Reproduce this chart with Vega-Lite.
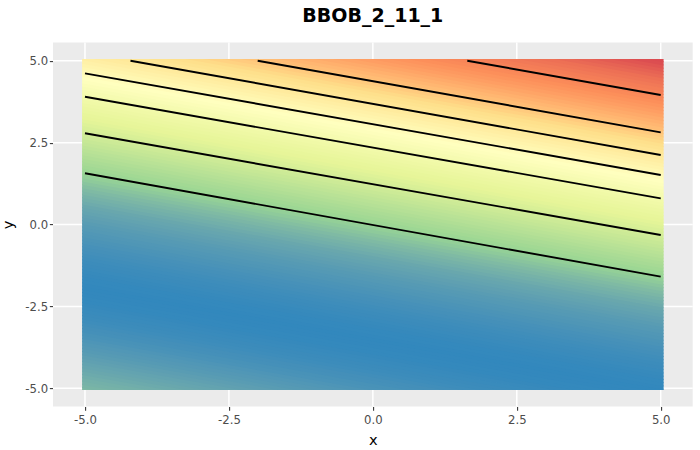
{
  "$schema": "https://vega.github.io/schema/vega-lite/v6.json",
  "autosize": {"type": "none"},
  "width": 581.5,
  "height": 330.9,
  "padding": {"left": 82.1, "top": 59.1, "right": 36.4, "bottom": 60},
  "background": "white",
  "title": {"text": "BBOB_2_11_1", "font": "DejaVu Sans", "fontSize": 19, "fontWeight": "bold", "color": "#000000", "anchor": "middle", "baseline": "alphabetic", "offset": 1},
  "config": {
    "view": {"stroke": null},
    "axis": {"domain": false, "grid": false, "tickColor": "#333333", "tickSize": 3.65, "tickWidth": 1.07, "labelColor": "#4d4d4d", "labelFontSize": 11.7, "labelFont": "DejaVu Sans", "titleFont": "DejaVu Sans", "titleFontSize": 14.6, "titleFontWeight": "normal", "titleColor": "#000000"},
    "axisX": {"offset": 16.5, "labelPadding": 4.5, "titlePadding": 6.5},
    "axisY": {"offset": 29.1, "labelPadding": 1.7, "titlePadding": 9}
  },
  "datasets": {
    "grid": [{"g": -5}, {"g": -2.5}, {"g": 0}, {"g": 2.5}, {"g": 5}],
    "field": [
      {"y":-5.124,"y2":-8.276,"v":0.116},{"y":-5.024,"y2":-8.176,"v":0.108},{"y":-4.924,"y2":-8.076,"v":0.100},{"y":-4.824,"y2":-7.976,"v":0.094},{"y":-4.724,"y2":-7.876,"v":0.088},
      {"y":-4.624,"y2":-7.776,"v":0.082},{"y":-4.524,"y2":-7.676,"v":0.076},{"y":-4.424,"y2":-7.576,"v":0.070},{"y":-4.324,"y2":-7.476,"v":0.065},{"y":-4.224,"y2":-7.376,"v":0.060},
      {"y":-4.124,"y2":-7.276,"v":0.055},{"y":-4.024,"y2":-7.176,"v":0.050},{"y":-3.924,"y2":-7.076,"v":0.045},{"y":-3.824,"y2":-6.976,"v":0.041},{"y":-3.724,"y2":-6.876,"v":0.037},
      {"y":-3.624,"y2":-6.776,"v":0.033},{"y":-3.524,"y2":-6.676,"v":0.029},{"y":-3.424,"y2":-6.576,"v":0.025},{"y":-3.324,"y2":-6.476,"v":0.022},{"y":-3.224,"y2":-6.376,"v":0.019},
      {"y":-3.124,"y2":-6.276,"v":0.017},{"y":-3.024,"y2":-6.176,"v":0.014},{"y":-2.924,"y2":-6.076,"v":0.011},{"y":-2.824,"y2":-5.976,"v":0.009},{"y":-2.724,"y2":-5.876,"v":0.008},
      {"y":-2.624,"y2":-5.776,"v":0.006},{"y":-2.524,"y2":-5.676,"v":0.005},{"y":-2.424,"y2":-5.576,"v":0.003},{"y":-2.324,"y2":-5.476,"v":0.002},{"y":-2.224,"y2":-5.376,"v":0.002},
      {"y":-2.124,"y2":-5.276,"v":0.001},{"y":-2.024,"y2":-5.176,"v":0.001},{"y":-1.924,"y2":-5.076,"v":0.000},{"y":-1.824,"y2":-4.976,"v":0.001},{"y":-1.724,"y2":-4.876,"v":0.002},
      {"y":-1.624,"y2":-4.776,"v":0.002},{"y":-1.524,"y2":-4.676,"v":0.003},{"y":-1.424,"y2":-4.576,"v":0.004},{"y":-1.324,"y2":-4.476,"v":0.006},{"y":-1.224,"y2":-4.376,"v":0.008},
      {"y":-1.124,"y2":-4.276,"v":0.009},{"y":-1.024,"y2":-4.176,"v":0.011},{"y":-0.924,"y2":-4.076,"v":0.013},{"y":-0.824,"y2":-3.976,"v":0.016},{"y":-0.724,"y2":-3.876,"v":0.019},
      {"y":-0.624,"y2":-3.776,"v":0.021},{"y":-0.524,"y2":-3.676,"v":0.024},{"y":-0.424,"y2":-3.576,"v":0.027},{"y":-0.324,"y2":-3.476,"v":0.031},{"y":-0.224,"y2":-3.376,"v":0.034},
      {"y":-0.124,"y2":-3.276,"v":0.038},{"y":-0.024,"y2":-3.176,"v":0.041},{"y":0.076,"y2":-3.076,"v":0.045},{"y":0.176,"y2":-2.976,"v":0.050},{"y":0.276,"y2":-2.876,"v":0.055},
      {"y":0.376,"y2":-2.776,"v":0.060},{"y":0.476,"y2":-2.676,"v":0.065},{"y":0.576,"y2":-2.576,"v":0.070},{"y":0.676,"y2":-2.476,"v":0.078},{"y":0.776,"y2":-2.376,"v":0.086},
      {"y":0.876,"y2":-2.276,"v":0.094},{"y":0.976,"y2":-2.176,"v":0.102},{"y":1.076,"y2":-2.076,"v":0.110},{"y":1.176,"y2":-1.976,"v":0.121},{"y":1.276,"y2":-1.876,"v":0.132},
      {"y":1.376,"y2":-1.776,"v":0.143},{"y":1.476,"y2":-1.676,"v":0.154},{"y":1.576,"y2":-1.576,"v":0.165},{"y":1.676,"y2":-1.476,"v":0.175},{"y":1.776,"y2":-1.376,"v":0.185},
      {"y":1.876,"y2":-1.276,"v":0.195},{"y":1.976,"y2":-1.176,"v":0.205},{"y":2.076,"y2":-1.076,"v":0.215},{"y":2.176,"y2":-0.976,"v":0.225},{"y":2.276,"y2":-0.876,"v":0.235},
      {"y":2.376,"y2":-0.776,"v":0.245},{"y":2.476,"y2":-0.676,"v":0.255},{"y":2.576,"y2":-0.576,"v":0.265},{"y":2.676,"y2":-0.476,"v":0.275},{"y":2.776,"y2":-0.376,"v":0.285},
      {"y":2.876,"y2":-0.276,"v":0.295},{"y":2.976,"y2":-0.176,"v":0.305},{"y":3.076,"y2":-0.076,"v":0.315},{"y":3.176,"y2":0.024,"v":0.326},{"y":3.276,"y2":0.124,"v":0.337},
      {"y":3.376,"y2":0.224,"v":0.348},{"y":3.476,"y2":0.324,"v":0.359},{"y":3.576,"y2":0.424,"v":0.370},{"y":3.676,"y2":0.524,"v":0.384},{"y":3.776,"y2":0.624,"v":0.398},
      {"y":3.876,"y2":0.724,"v":0.412},{"y":3.976,"y2":0.824,"v":0.426},{"y":4.076,"y2":0.924,"v":0.440},{"y":4.176,"y2":1.024,"v":0.455},{"y":4.276,"y2":1.124,"v":0.470},
      {"y":4.376,"y2":1.224,"v":0.485},{"y":4.476,"y2":1.324,"v":0.500},{"y":4.576,"y2":1.424,"v":0.515},{"y":4.676,"y2":1.524,"v":0.530},{"y":4.776,"y2":1.624,"v":0.545},
      {"y":4.876,"y2":1.724,"v":0.560},{"y":4.976,"y2":1.824,"v":0.575},{"y":5.076,"y2":1.924,"v":0.590},{"y":5.176,"y2":2.024,"v":0.605},{"y":5.276,"y2":2.124,"v":0.620},
      {"y":5.376,"y2":2.224,"v":0.635},{"y":5.476,"y2":2.324,"v":0.650},{"y":5.576,"y2":2.424,"v":0.665},{"y":5.676,"y2":2.524,"v":0.680},{"y":5.776,"y2":2.624,"v":0.695},
      {"y":5.876,"y2":2.724,"v":0.710},{"y":5.976,"y2":2.824,"v":0.725},{"y":6.076,"y2":2.924,"v":0.740},{"y":6.176,"y2":3.024,"v":0.752},{"y":6.276,"y2":3.124,"v":0.764},
      {"y":6.376,"y2":3.224,"v":0.776},{"y":6.476,"y2":3.324,"v":0.788},{"y":6.576,"y2":3.424,"v":0.800},{"y":6.676,"y2":3.524,"v":0.810},{"y":6.776,"y2":3.624,"v":0.820},
      {"y":6.876,"y2":3.724,"v":0.830},{"y":6.976,"y2":3.824,"v":0.840},{"y":7.076,"y2":3.924,"v":0.850},{"y":7.176,"y2":4.024,"v":0.860},{"y":7.276,"y2":4.124,"v":0.870},
      {"y":7.376,"y2":4.224,"v":0.880},{"y":7.476,"y2":4.324,"v":0.890},{"y":7.576,"y2":4.424,"v":0.900},{"y":7.676,"y2":4.524,"v":0.914},{"y":7.776,"y2":4.624,"v":0.928},
      {"y":7.876,"y2":4.724,"v":0.942},{"y":7.976,"y2":4.824,"v":0.956},{"y":8.076,"y2":4.924,"v":0.970},{"y":8.176,"y2":5.024,"v":0.976},{"y":8.276,"y2":5.124,"v":0.982}
    ],
    "contours": [
      {"line": 1, "x": -5, "y": 1.564}, {"line": 1, "x": 5, "y": -1.59},
      {"line": 2, "x": -5, "y": 2.785}, {"line": 2, "x": 5, "y": -0.32},
      {"line": 3, "x": -5, "y": 3.9}, {"line": 3, "x": 5, "y": 0.8},
      {"line": 4, "x": -5, "y": 4.615}, {"line": 4, "x": 5, "y": 1.512},
      {"line": 5, "x": -4.21, "y": 5}, {"line": 5, "x": 5, "y": 2.122},
      {"line": 6, "x": -2.0, "y": 5}, {"line": 6, "x": 5, "y": 2.815},
      {"line": 7, "x": 1.64, "y": 5}, {"line": 7, "x": 5, "y": 3.953}
    ]
  },
  "layer": [
    {
      "data": {"values": [{}]},
      "mark": {"type": "rect", "fill": "#ebebeb"},
      "encoding": {
        "x": {"datum": -5.555, "type": "quantitative", "title": "x", "scale": {"domain": [-5.05, 5.05], "nice": false, "zero": false},
              "axis": {"values": [-5, -2.5, 0, 2.5, 5], "labelExpr": "datum.value < 0 ? '-' + format(-datum.value, '.1f') : format(datum.value, '.1f')"}},
        "x2": {"datum": 5.555},
        "y": {"datum": -5.555, "type": "quantitative", "title": "y", "scale": {"domain": [-5.05, 5.05], "nice": false, "zero": false},
              "axis": {"values": [-5, -2.5, 0, 2.5, 5], "labelExpr": "datum.value < 0 ? '-' + format(-datum.value, '.1f') : format(datum.value, '.1f')"}},
        "y2": {"datum": 5.555}
      }
    },
    {
      "data": {"name": "grid"},
      "mark": {"type": "rule", "stroke": "#ffffff", "strokeWidth": 1.5},
      "encoding": {
        "x": {"field": "g", "type": "quantitative", "title": "x", "scale": {"domain": [-5.05, 5.05], "nice": false, "zero": false},
              "axis": {"values": [-5, -2.5, 0, 2.5, 5], "labelExpr": "datum.value < 0 ? '-' + format(-datum.value, '.1f') : format(datum.value, '.1f')"}},
        "y": {"datum": -5.555, "type": "quantitative", "title": "y", "scale": {"domain": [-5.05, 5.05], "nice": false, "zero": false},
              "axis": {"values": [-5, -2.5, 0, 2.5, 5], "labelExpr": "datum.value < 0 ? '-' + format(-datum.value, '.1f') : format(datum.value, '.1f')"}},
        "y2": {"datum": 5.555}
      }
    },
    {
      "data": {"name": "grid"},
      "mark": {"type": "rule", "stroke": "#ffffff", "strokeWidth": 1.5},
      "encoding": {
        "y": {"field": "g", "type": "quantitative", "title": "y", "scale": {"domain": [-5.05, 5.05], "nice": false, "zero": false},
              "axis": {"values": [-5, -2.5, 0, 2.5, 5], "labelExpr": "datum.value < 0 ? '-' + format(-datum.value, '.1f') : format(datum.value, '.1f')"}},
        "x": {"datum": -5.555, "type": "quantitative", "title": "x", "scale": {"domain": [-5.05, 5.05], "nice": false, "zero": false},
              "axis": {"values": [-5, -2.5, 0, 2.5, 5], "labelExpr": "datum.value < 0 ? '-' + format(-datum.value, '.1f') : format(datum.value, '.1f')"}},
        "x2": {"datum": 5.555}
      }
    },
    {
      "data": {"name": "field"},
      "mark": {"type": "rule", "clip": true, "strokeWidth": 4.2, "strokeCap": "square"},
      "encoding": {
        "x": {"datum": -5.05, "type": "quantitative", "title": "x", "scale": {"domain": [-5.05, 5.05], "nice": false, "zero": false},
              "axis": {"values": [-5, -2.5, 0, 2.5, 5], "labelExpr": "datum.value < 0 ? '-' + format(-datum.value, '.1f') : format(datum.value, '.1f')"}},
        "x2": {"datum": 5.05},
        "y": {"field": "y", "type": "quantitative", "title": "y", "scale": {"domain": [-5.05, 5.05], "nice": false, "zero": false},
              "axis": {"values": [-5, -2.5, 0, 2.5, 5], "labelExpr": "datum.value < 0 ? '-' + format(-datum.value, '.1f') : format(datum.value, '.1f')"}},
        "y2": {"field": "y2"},
        "color": {"field": "v", "type": "quantitative", "legend": null,
                  "scale": {"domain": [0, 0.1667, 0.3333, 0.5, 0.6667, 0.8333, 1], "range": ["#3288BD", "#99D594", "#E6F598", "#FFFFBF", "#FEE08B", "#FC8D59", "#D53E4F"], "interpolate": "lab"}}
      }
    },
    {
      "data": {"name": "contours"},
      "mark": {"type": "line", "stroke": "#000000", "strokeWidth": 1.9, "clip": true},
      "encoding": {
        "x": {"field": "x", "type": "quantitative", "title": "x", "scale": {"domain": [-5.05, 5.05], "nice": false, "zero": false},
              "axis": {"values": [-5, -2.5, 0, 2.5, 5], "labelExpr": "datum.value < 0 ? '-' + format(-datum.value, '.1f') : format(datum.value, '.1f')"}},
        "y": {"field": "y", "type": "quantitative", "title": "y", "scale": {"domain": [-5.05, 5.05], "nice": false, "zero": false},
              "axis": {"values": [-5, -2.5, 0, 2.5, 5], "labelExpr": "datum.value < 0 ? '-' + format(-datum.value, '.1f') : format(datum.value, '.1f')"}},
        "detail": {"field": "line", "type": "nominal"},
        "order": {"field": "x", "type": "quantitative"}
      }
    }
  ]
}
